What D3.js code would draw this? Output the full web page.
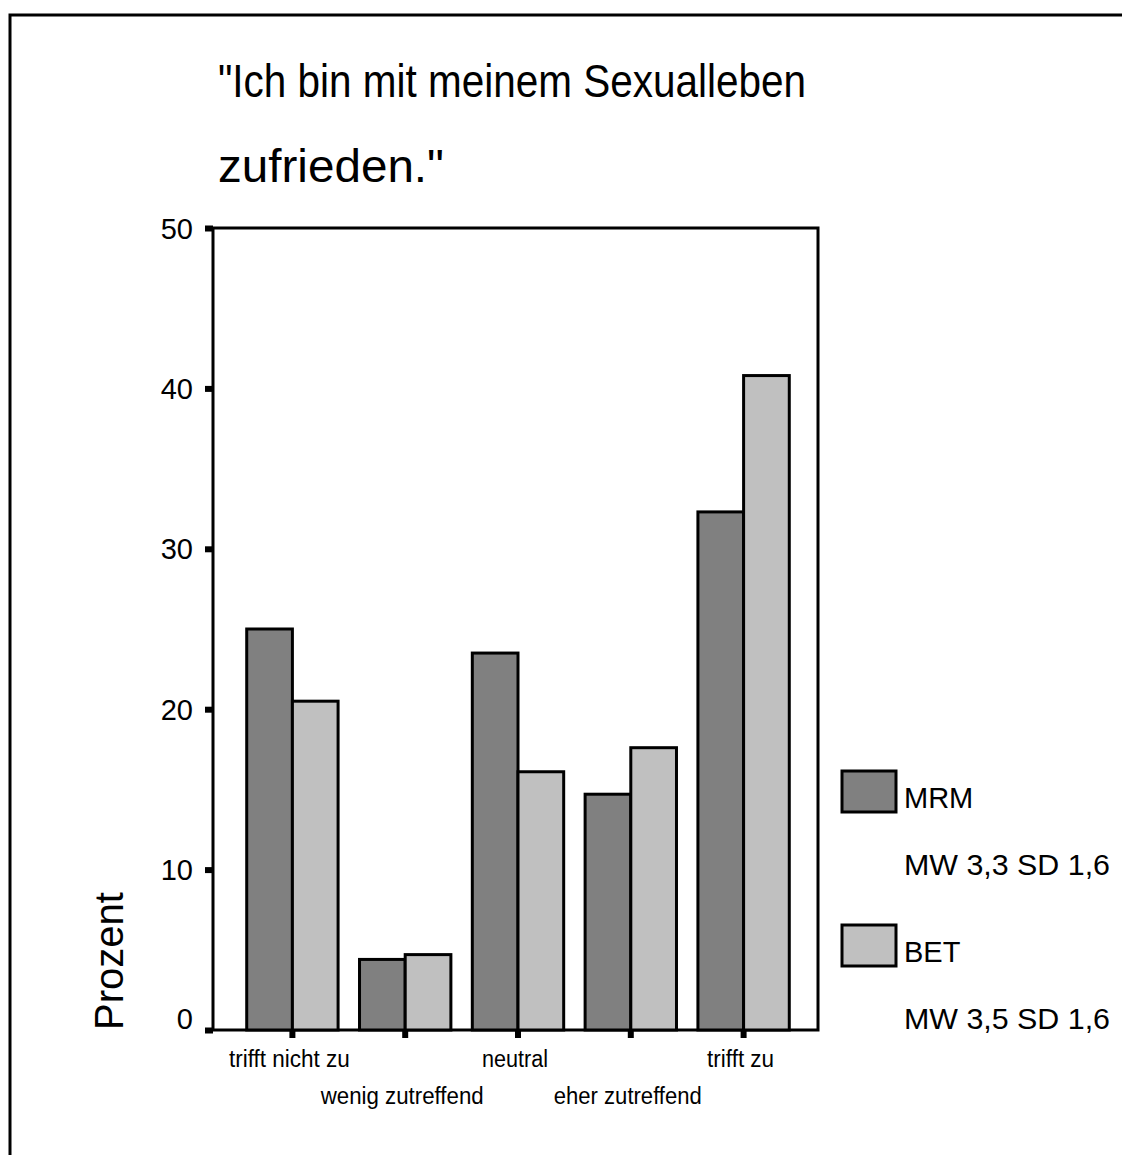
<!DOCTYPE html>
<html>
<head>
<meta charset="utf-8">
<script src="https://cdn.jsdelivr.net/npm/d3@7"></script>
<style>
  html, body { margin: 0; padding: 0; background: #fff; }
  svg { display: block; }
  text { font-family: "Liberation Sans", Arial, sans-serif; fill: #000; }
</style>
</head>
<body>
<script>
const categories = ["trifft nicht zu", "wenig zutreffend", "neutral", "eher zutreffend", "trifft zu"];
const seriesNames = ["MRM", "BET"];
const mrmValues = [25.0, 4.4, 23.5, 14.7, 32.3];
const betValues = [20.5, 4.7, 16.1, 17.6, 40.8];
const seriesStats = ["MW 3,3 SD 1,6", "MW 3,5 SD 1,6"];
const seriesColors = ["#808080", "#c0c0c0"];
const yTicks = [0, 10, 20, 30, 40, 50];
const titleLines = ["\"Ich bin mit meinem Sexualleben", "zufrieden.\""];
const yTitle = "Prozent";

const W = 1122, H = 1155;
const plot = { left: 213, right: 818, top: 228, bottom: 1030 };
// rendered text widths (layout)
const titleWidths = [588, 226];
const xLabelWidths = [121, 163, 66, 148, 67];

const svg = d3.select("body").append("svg").attr("width", W).attr("height", H);

// outer frame (left and top visible)
svg.append("path")
  .attr("d", `M10,${H} V15 H${W}`)
  .attr("fill", "none").attr("stroke", "#000").attr("stroke-width", 3);

// title
svg.selectAll("text.title").data(titleLines).join("text")
  .attr("class", "title")
  .attr("x", 218)
  .attr("y", (d, i) => 97 + i * 85)
  .attr("textLength", (d, i) => titleWidths[i])
  .attr("lengthAdjust", "spacingAndGlyphs")
  .style("font-size", "46px")
  .text(d => d);

const y = d3.scaleLinear().domain([0, 50]).range([plot.bottom, plot.top]);
const x = d3.scaleBand().domain(categories).range([236, 800]).paddingInner(0.19).paddingOuter(0.095);
const xs = d3.scaleBand().domain(seriesNames).range([0, x.bandwidth()]);

const data = categories.map((c, i) => ({ cat: c, values: [mrmValues[i], betValues[i]] }));

// plot frame
svg.append("rect")
  .attr("x", plot.left).attr("y", plot.top)
  .attr("width", plot.right - plot.left).attr("height", plot.bottom - plot.top)
  .attr("fill", "none").attr("stroke", "#000").attr("stroke-width", 3);

// bars
const groups = svg.selectAll("g.grp").data(data).join("g")
  .attr("class", "grp")
  .attr("transform", d => `translate(${x(d.cat)},0)`);
groups.selectAll("rect").data(d => d.values.map((v, i) => ({ s: seriesNames[i], v, i }))).join("rect")
  .attr("x", d => xs(d.s))
  .attr("y", d => y(d.v))
  .attr("width", xs.bandwidth())
  .attr("height", d => y(0) - y(d.v))
  .attr("fill", d => seriesColors[d.i])
  .attr("stroke", "#000").attr("stroke-width", 3);

// y axis
const yAxis = svg.append("g")
  .attr("transform", `translate(${plot.left},0)`)
  .call(d3.axisLeft(y).tickValues(yTicks).tickSize(8).tickPadding(12));
yAxis.select(".domain").remove();
yAxis.selectAll(".tick line").attr("stroke", "#000").attr("stroke-width", 6);
yAxis.selectAll(".tick text")
  .style("font-size", "29px").attr("font-family", null)
  .attr("dy", d => d === 0 ? "-0.05em" : "0.35em");

// x axis
const xAxis = svg.append("g")
  .attr("transform", `translate(0,${plot.bottom})`)
  .call(d3.axisBottom(x).tickSize(8).tickPadding(0));
xAxis.select(".domain").remove();
xAxis.selectAll(".tick line").attr("stroke", "#000").attr("stroke-width", 6);
xAxis.selectAll(".tick text")
  .style("font-size", "23px").attr("font-family", null)
  .attr("x", -3)
  .attr("y", (d, i) => i % 2 === 0 ? 37 : 74)
  .attr("dy", 0)
  .attr("textLength", (d, i) => xLabelWidths[i])
  .attr("lengthAdjust", "spacingAndGlyphs");

// y title
svg.append("text")
  .attr("transform", "translate(123,961) rotate(-90)")
  .attr("text-anchor", "middle")
  .attr("textLength", 138)
  .attr("lengthAdjust", "spacingAndGlyphs")
  .style("font-size", "40px")
  .text(yTitle);

// legend
const legendY = [771, 925];
const leg = svg.selectAll("g.leg").data(seriesNames).join("g").attr("class", "leg")
  .attr("transform", (d, i) => `translate(842,${legendY[i]})`);
leg.append("rect")
  .attr("width", 54).attr("height", 41)
  .attr("fill", (d, i) => seriesColors[i])
  .attr("stroke", "#000").attr("stroke-width", 3);
leg.append("text").attr("x", 62).attr("y", 37).style("font-size", "29px").text(d => d);
leg.append("text").attr("x", 62).attr("y", 104).style("font-size", "29px")
  .attr("textLength", 206).attr("lengthAdjust", "spacingAndGlyphs")
  .text((d, i) => seriesStats[i]);
</script>
</body>
</html>
